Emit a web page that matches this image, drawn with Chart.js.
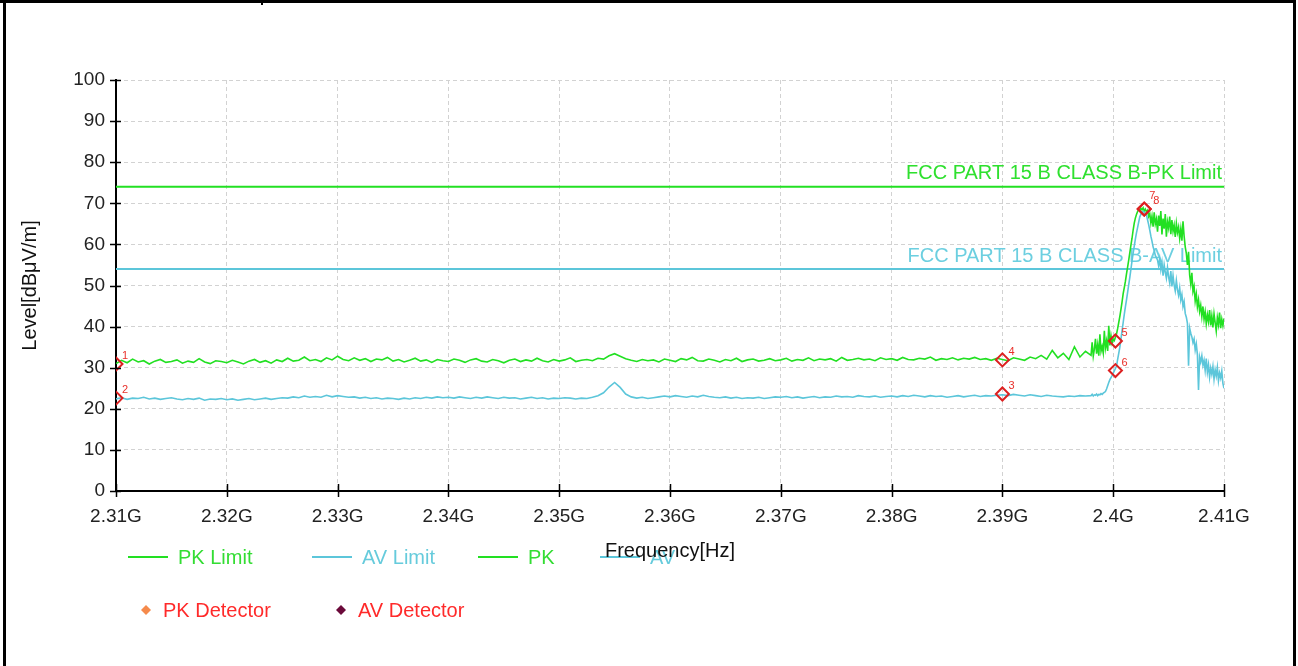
<!DOCTYPE html>
<html>
<head>
<meta charset="utf-8">
<title>Level vs Frequency</title>
<script src="https://cdn.jsdelivr.net/npm/chart.js@4.4.0/dist/chart.umd.min.js"></script>
<style>
	html, body { margin: 0; padding: 0; background: #fff; }
	#wrap { position: relative; width: 1298px; height: 666px; }
</style>
</head>
<body>
<div id="wrap"><canvas id="chartNivel"></canvas></div>
<script>
// axis ticks
const xTickValues = [2.31, 2.32, 2.33, 2.34, 2.35, 2.36, 2.37, 2.38, 2.39, 2.4, 2.41]
const xTickLabels = ['2.31G', '2.32G', '2.33G', '2.34G', '2.35G', '2.36G', '2.37G', '2.38G', '2.39G', '2.4G', '2.41G']
const yTickValues = [0, 10, 20, 30, 40, 50, 60, 70, 80, 90, 100]

// limits (dBµV/m)
const pkLimit = 74
const avLimit = 54

// sweep: coarse band 2.31G .. 2.3975G, fine band 2.398G .. 2.41G
const lowBandStart = 2.31
const lowBandStep = 0.0005
const highBandStart = 2.398
const highBandStep = 0.0001

const pkLow = [
	31.0, 31.8, 31.2, 32.1, 31.4, 31.7, 30.9, 31.6, 32.0, 31.3, 31.5, 31.9, 31.1, 31.6, 31.3, 32.2, 31.4, 31.0, 31.7, 31.5,
	31.2, 31.8, 31.4, 30.9, 31.6, 32.0, 31.3, 31.7, 31.1, 31.9, 31.5, 32.3, 31.6, 31.8, 32.6, 31.7, 32.0, 31.5, 32.4, 31.9,
	32.8, 32.0, 31.7, 32.4, 31.8, 32.2, 31.5, 32.1, 31.9, 32.5, 31.6, 32.0, 31.4, 31.8, 32.3, 31.6, 31.9, 31.3, 32.0, 31.7,
	31.5, 32.1, 31.8, 31.3, 31.9, 32.2, 31.6, 31.4, 32.0, 31.7, 31.2, 31.8, 32.1, 31.5, 31.9, 31.6, 32.3, 31.7, 31.4, 32.0,
	31.6, 31.9, 32.4, 31.5, 31.8, 32.0, 31.7, 32.3, 32.1, 32.9, 33.4, 32.8, 32.2, 31.8, 31.5, 32.0, 31.7, 31.9, 31.4, 32.1,
	31.8, 31.5, 32.2, 31.9, 32.5, 31.7, 31.6, 32.1, 31.8, 31.4, 32.0, 31.7, 32.3, 31.5, 31.9, 32.1, 31.6, 31.8, 32.2, 31.7,
	31.9, 32.3, 31.6, 32.0, 31.8, 32.4, 31.7, 32.1, 31.9, 32.2, 31.6, 32.5, 31.8, 32.0, 32.3, 31.9, 32.1, 31.7, 32.4, 32.0,
	32.2, 31.8, 32.5, 32.0, 31.9, 32.3, 32.1, 32.6, 31.8, 32.2, 32.0, 32.4, 31.9, 32.3, 32.1, 32.5, 32.0, 32.2, 31.8, 32.3,
	32.0, 31.7, 32.4, 32.1, 31.8, 32.6, 32.2, 33.0, 32.1, 34.2, 32.4, 33.5, 32.0, 35.1, 32.6, 34.0,
]
const pkHigh = [
	33.0, 36.2, 32.8, 34.5, 37.0, 33.4, 35.6, 32.9, 38.1, 34.0,
	35.2, 33.6, 39.0, 34.8, 36.5, 34.1, 40.2, 35.4, 37.8, 36.0,
	37.0, 36.6, 37.4, 38.2, 39.5, 41.0, 42.5, 44.2, 46.0, 48.0,
	49.5, 51.0, 52.8, 54.5, 56.2, 58.0, 59.8, 61.5, 63.5, 65.2,
	66.4, 67.3, 68.0, 68.5, 68.2, 68.8, 68.4, 68.9, 68.1, 68.6,
	67.9, 68.3, 66.8, 67.5, 65.2, 66.9, 64.3, 67.8, 65.0, 66.2,
	63.1, 67.0, 64.5, 68.1, 62.4, 66.3, 63.8, 67.4, 61.9, 65.5,
	64.0, 66.8, 62.5, 65.9, 63.2, 64.7, 61.8, 65.1, 62.9, 64.2,
	61.5, 63.8, 60.9, 65.6, 62.0, 59.4, 57.8, 55.0, 58.2, 52.6,
	50.4, 53.1, 48.6, 49.8, 46.2, 47.9, 44.8, 46.5, 43.7, 45.2,
	42.5, 44.9, 41.8, 43.6, 40.7, 42.9, 41.2, 44.0, 40.3, 42.6,
	39.8, 43.1, 41.0, 38.9, 42.2, 40.5, 43.4, 39.6, 41.8, 40.2, 42.0,
]
const avLow = [
	22.4, 22.7, 22.3, 22.6, 22.5, 22.8, 22.4, 22.6, 22.3, 22.5, 22.7, 22.4, 22.2, 22.5, 22.3, 22.6, 22.1, 22.4, 22.3, 22.5,
	22.2, 22.4, 22.1, 22.3, 22.5, 22.2, 22.4, 22.6, 22.3, 22.5, 22.7, 22.6, 22.9, 22.7, 23.1, 22.8, 23.0, 22.8, 23.3, 22.9,
	23.2, 23.0, 22.8, 22.9, 22.6, 22.8, 22.5, 22.7, 22.4, 22.6, 22.5, 22.3, 22.6, 22.4, 22.7, 22.5, 22.8, 22.6, 22.9, 22.7,
	22.8, 22.6, 22.9, 22.7, 22.5, 22.8, 22.6, 22.9, 22.7, 22.5, 22.8, 22.6, 22.7, 22.4, 22.6, 22.8, 22.5, 22.7, 22.4, 22.6,
	22.5, 22.7, 22.6, 22.4, 22.6, 22.5, 22.8, 23.2, 23.9, 25.3, 26.4, 25.2, 23.6, 22.9, 22.6, 22.8, 22.5, 22.7, 22.9, 23.1,
	22.9, 23.2, 23.0, 22.8, 23.1, 22.9, 23.3, 23.0, 22.8, 22.7, 22.9, 22.6, 22.8, 22.5, 22.7, 22.6, 22.8, 22.5, 22.7, 22.9,
	22.8, 23.0, 22.7, 22.9, 22.6, 22.8, 23.0, 22.7, 22.9, 22.8, 23.1, 22.9, 23.0, 22.8, 23.2, 23.0, 22.9, 23.1, 22.8, 23.0,
	23.1, 22.9, 23.2, 23.0, 23.3, 23.1, 22.9, 23.2, 23.0, 23.1, 22.8, 23.0, 23.2, 22.9, 23.1, 23.3, 23.0, 23.2, 23.1, 23.3,
	23.4, 23.2, 23.5, 23.3, 23.1, 23.4, 23.2, 23.0, 23.3, 23.1, 23.0, 22.9, 23.1, 23.0, 23.2, 23.1,
]
const avHigh = [
	23.2, 23.5, 23.1, 23.4, 23.3, 23.6, 23.2, 23.5, 23.4, 23.7,
	23.5, 23.8, 24.0, 24.2, 24.8, 25.6, 26.4, 27.1, 27.6, 28.1,
	28.7, 29.2, 29.8, 30.4, 32.0, 33.5, 35.0, 37.0, 39.0, 41.0,
	43.0, 44.8, 46.5, 48.3, 50.2, 52.0, 54.0, 56.0, 57.9, 59.6,
	61.3, 62.8, 64.1, 65.4, 66.7, 67.3, 67.9, 68.0, 67.8, 67.5,
	67.2, 66.0, 64.8, 63.5, 62.0, 60.8, 59.4, 58.5, 57.3, 56.8,
	56.2, 54.8, 56.5, 53.9, 55.6, 52.4, 55.0, 53.2, 51.8, 54.3,
	52.1, 50.6, 53.5, 49.8, 52.4, 50.1, 48.7, 51.2, 49.0, 47.6,
	49.4, 46.5, 47.8, 44.9, 46.1, 43.2, 42.3, 40.8, 30.5, 39.6,
	38.4, 37.5, 36.1, 37.0, 34.3, 35.8, 33.2, 24.6, 32.6, 31.4,
	32.9, 30.6, 31.8, 29.4, 32.2, 28.9, 30.7, 27.7, 29.9, 28.4,
	30.3, 27.2, 29.5, 28.0, 30.1, 26.8, 28.7, 27.5, 29.2, 26.2, 25.0,
]

// marker table
const markerNos = ['1', '2', '3', '4', '5', '6', '7', '8']
const markerFreqs = [2.31, 2.31, 2.39, 2.39, 2.4002, 2.4002, 2.4028, 2.4028]
const markerLevels = [30.9, 22.6, 23.6, 31.9, 36.5, 29.3, 68.6, 68.6]

const pkColor = '#22e022'
const avColor = '#5cc6da'
const fontFamily = '"Liberation Sans", Arial, sans-serif'

const toPoints = (low, high) => [
	...low.map((y, i) => ({ x: lowBandStart + i * lowBandStep, y })),
	...high.map((y, i) => ({ x: highBandStart + i * highBandStep, y })),
]

const limitLabels = {
	id: 'limitLabels',
	beforeDatasetsDraw(chart) {
		const { ctx, chartArea, scales } = chart
		ctx.save()
		ctx.font = `20px ${fontFamily}`
		ctx.textAlign = 'right'
		ctx.textBaseline = 'bottom'
		ctx.fillStyle = '#2ee02e'
		ctx.fillText('FCC PART 15 B CLASS B-PK Limit', chartArea.right - 2, scales.y.getPixelForValue(pkLimit) - 3)
		ctx.fillStyle = '#6ccfe0'
		ctx.fillText('FCC PART 15 B CLASS B-AV Limit', chartArea.right - 2, scales.y.getPixelForValue(avLimit) - 3)
		ctx.restore()
	},
}

const frame = {
	id: 'frame',
	beforeDraw(chart) {
		const { ctx, width, height } = chart
		ctx.save()
		ctx.fillStyle = '#fff'
		ctx.fillRect(0, 0, width, height)
		ctx.fillStyle = '#000'
		ctx.fillRect(0, 0, width - 2, 3)
		ctx.fillRect(3, 0, 3, height)
		ctx.fillRect(1293, 0, 3, height)
		ctx.fillRect(261, 0, 2, 5)
		ctx.restore()
	},
	afterDatasetsDraw(chart) {
		const { ctx, chartArea, scales } = chart
		ctx.save()
		// tick crosses on both axes
		ctx.strokeStyle = '#000'
		ctx.lineWidth = 1.5
		ctx.beginPath()
		yTickValues.forEach((v) => {
			const py = Math.round(scales.y.getPixelForValue(v)) + 0.5
			ctx.moveTo(chartArea.left - 6, py)
			ctx.lineTo(chartArea.left + 5, py)
		})
		xTickValues.forEach((v) => {
			const px = Math.round(scales.x.getPixelForValue(v)) + 0.5
			ctx.moveTo(px, chartArea.bottom - 7)
			ctx.lineTo(px, chartArea.bottom + 6)
		})
		ctx.stroke()

		// marker numbers
		ctx.font = `11px ${fontFamily}`
		ctx.fillStyle = '#e8302a'
		ctx.textAlign = 'left'
		ctx.textBaseline = 'alphabetic'
		markerNos.forEach((n, i) => {
			const px = scales.x.getPixelForValue(markerFreqs[i])
			const py = scales.y.getPixelForValue(markerLevels[i])
			const dx = n === '7' ? 5 : n === '8' ? 9 : 6
			const dy = n === '7' ? -10 : -5
			ctx.fillText(n, px + dx, py + dy)
		})

		// axis titles
		ctx.fillStyle = '#111'
		ctx.font = `20px ${fontFamily}`
		ctx.textAlign = 'center'
		ctx.textBaseline = 'middle'
		ctx.save()
		ctx.translate(30, (chartArea.top + chartArea.bottom) / 2)
		ctx.rotate(-Math.PI / 2)
		ctx.fillText('Level[dBμV/m]', 0, 0)
		ctx.restore()

		// legend, row 1
		ctx.textAlign = 'left'
		const rowA = 557
		const lineItems = [
			{ x: 128, label: 'PK Limit', color: pkColor, text: '#33dd33' },
			{ x: 312, label: 'AV Limit', color: avColor, text: '#66cbdc' },
			{ x: 478, label: 'PK', color: pkColor, text: '#33dd33' },
			{ x: 600, label: 'AV', color: avColor, text: '#66cbdc' },
		]
		lineItems.forEach((it) => {
			ctx.strokeStyle = it.color
			ctx.lineWidth = 2
			ctx.beginPath()
			ctx.moveTo(it.x, rowA)
			ctx.lineTo(it.x + 40, rowA)
			ctx.stroke()
			ctx.fillStyle = it.text
			ctx.fillText(it.label, it.x + 50, rowA + 1)
		})

		ctx.fillStyle = '#111'
		ctx.textAlign = 'center'
		ctx.fillText('Frequency[Hz]', (chartArea.left + chartArea.right) / 2, 551)

		// legend, row 2
		const rowB = 610
		const dotItems = [
			{ x: 146, label: 'PK Detector', color: '#f58a4b' },
			{ x: 341, label: 'AV Detector', color: '#6b0a3a' },
		]
		ctx.textAlign = 'left'
		dotItems.forEach((it) => {
			ctx.fillStyle = it.color
			ctx.beginPath()
			ctx.moveTo(it.x, rowB - 5)
			ctx.lineTo(it.x + 5, rowB)
			ctx.lineTo(it.x, rowB + 5)
			ctx.lineTo(it.x - 5, rowB)
			ctx.closePath()
			ctx.fill()
			ctx.fillStyle = '#ff2a2a'
			ctx.fillText(it.label, it.x + 17, rowB + 1)
		})
		ctx.restore()
	},
}

const ctxNivel = document.getElementById('chartNivel').getContext('2d')
const chartNivel = new Chart(ctxNivel, {
	type: 'line',
	data: {
		datasets: [
			{
				label: 'Markers',
				data: markerFreqs.map((x, i) => ({ x, y: markerLevels[i] })),
				showLine: false,
				pointStyle: 'rectRot',
				pointRadius: 6.5,
				pointBorderWidth: 2,
				pointBorderColor: '#dc2020',
				pointBackgroundColor: 'rgba(0,0,0,0)',
				order: 0,
			},
			{
				label: 'AV',
				data: toPoints(avLow, avHigh),
				borderColor: avColor,
				borderWidth: 1.6,
				pointRadius: 0,
				order: 1,
			},
			{
				label: 'PK',
				data: toPoints(pkLow, pkHigh),
				borderColor: pkColor,
				borderWidth: 1.6,
				pointRadius: 0,
				order: 2,
			},
			{
				label: 'AV Limit',
				data: [{ x: 2.31, y: avLimit }, { x: 2.41, y: avLimit }],
				borderColor: avColor,
				borderWidth: 2,
				pointRadius: 0,
				order: 3,
			},
			{
				label: 'PK Limit',
				data: [{ x: 2.31, y: pkLimit }, { x: 2.41, y: pkLimit }],
				borderColor: pkColor,
				borderWidth: 2,
				pointRadius: 0,
				order: 4,
			},
		],
	},
	options: {
		responsive: true,
		maintainAspectRatio: false,
		animation: false,
		events: [],
		layout: { padding: { top: 80, right: 74, left: 0, bottom: 0 } },
		scales: {
			x: {
				type: 'linear',
				min: 2.31,
				max: 2.41,
				afterFit: (s) => { s.height = 175 },
				afterBuildTicks: (s) => { s.ticks = xTickValues.map((value) => ({ value })) },
				ticks: {
					autoSkip: false,
					maxRotation: 0,
					padding: 14,
					color: '#222',
					font: { family: fontFamily, size: 19 },
					callback: (value, i) => xTickLabels[i],
				},
				grid: { color: '#d2d2d2', lineWidth: 1, drawTicks: false },
				border: { display: true, color: '#000', width: 2, dash: [4, 3] },
			},
			y: {
				min: 0,
				max: 100,
				afterFit: (s) => { s.width = 116 },
				afterBuildTicks: (s) => { s.ticks = yTickValues.map((value) => ({ value })) },
				ticks: {
					padding: 11,
					color: '#222',
					font: { family: fontFamily, size: 19 },
				},
				grid: { color: '#d2d2d2', lineWidth: 1, drawTicks: false },
				border: { display: true, color: '#000', width: 2, dash: [4, 3] },
			},
		},
		plugins: {
			legend: { display: false },
			tooltip: { enabled: false },
		},
	},
	plugins: [frame, limitLabels],
})
</script>
</body>
</html>
